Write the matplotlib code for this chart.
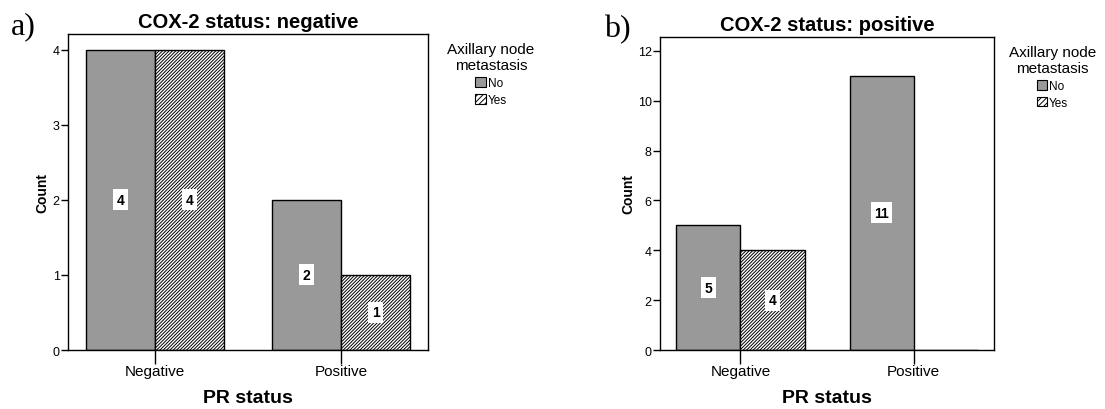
import matplotlib
matplotlib.use("Agg")
import matplotlib.pyplot as plt
from matplotlib.patches import Patch
import numpy as np

plt.rcParams['font.family'] = ['Liberation Sans', 'DejaVu Sans']
plt.rcParams['hatch.linewidth'] = 0.7

pr_status = ['Negative', 'Positive']
metastasis = ['No', 'Yes']

# counts per PR status, split by axillary node metastasis
cox2_neg_no = [4, 2]
cox2_neg_yes = [4, 1]
cox2_pos_no = [5, 11]
cox2_pos_yes = [4, 0]

neg_yticks = [0, 1, 2, 3, 4]
pos_yticks = [0, 2, 4, 6, 8, 10, 12]

BAR_GREY = '#999999'
BAR_W = 0.37
HATCH = '/' * 10


def draw_panel(ax, no_counts, yes_counts, title, ymax, yticks):
    """Clustered count bars for one COX-2 group."""
    x = np.arange(len(pr_status))
    bars_no = ax.bar(x - BAR_W / 2, no_counts, BAR_W, color=BAR_GREY,
                     edgecolor='black', linewidth=1)
    bars_yes = ax.bar(x + BAR_W / 2, yes_counts, BAR_W, color='white',
                      edgecolor='black', hatch=HATCH, linewidth=1)
    # value labels in white boxes at half bar height
    for bars, vals in ((bars_no, no_counts), (bars_yes, yes_counts)):
        for b, v in zip(bars, vals):
            if v == 0:
                continue
            ax.text(b.get_x() + b.get_width() / 2, v / 2, str(v),
                    ha='center', va='center', fontsize=10, fontweight='bold',
                    bbox=dict(facecolor='white', edgecolor='none',
                              boxstyle='square,pad=0.25'))

    ax.set_xlim(-0.465, 1.465)
    ax.set_ylim(0, ymax)
    ax.set_xticks(x)
    ax.set_xticklabels(pr_status, fontsize=11)
    ax.set_yticks(yticks)
    ax.tick_params(axis='y', direction='out', length=5, width=1,
                   labelsize=9, pad=1)
    ax.tick_params(axis='x', direction='out', length=10, width=1, pad=0)
    for sp in ax.spines.values():
        sp.set_linewidth(1)
    ax.set_title(title, fontsize=14.5, fontweight='bold', pad=5)
    ax.set_ylabel('Count', fontsize=10, fontweight='bold', labelpad=2)
    ax.set_xlabel('PR status', fontsize=14, fontweight='bold', labelpad=8)

    # legend swatches use a coarser hatch than the bars
    handles = [Patch(facecolor=BAR_GREY, edgecolor='black', linewidth=0.8),
               Patch(facecolor='white', edgecolor='black', linewidth=0.8,
                     hatch='//////')]
    leg = ax.legend(handles, metastasis, title='Axillary node\nmetastasis',
                    loc='upper center', bbox_to_anchor=(1.175, 0.985),
                    frameon=False, fontsize=8.5, title_fontsize=11,
                    handlelength=0.9, handleheight=0.9, handletextpad=0.15,
                    labelspacing=0.4, borderaxespad=0, borderpad=0.3)
    leg.get_title().set_multialignment('center')


fig = plt.figure(figsize=(11.05, 4.1), dpi=100)
ax_a = fig.add_axes([0.0615, 0.1439, 0.3258, 0.7707])
ax_b = fig.add_axes([0.5973, 0.1439, 0.3023, 0.7640])

draw_panel(ax_a, cox2_neg_no, cox2_neg_yes, 'COX-2 status: negative',
           4.21, neg_yticks)
draw_panel(ax_b, cox2_pos_no, cox2_pos_yes, 'COX-2 status: positive',
           12.57, pos_yticks)

fig.text(0.010, 0.935, 'a)', fontsize=23, family='Liberation Serif',
         ha='left', va='center')
fig.text(0.547, 0.928, 'b)', fontsize=23, family='Liberation Serif',
         ha='left', va='center')

fig.savefig('out.png', dpi=100)
